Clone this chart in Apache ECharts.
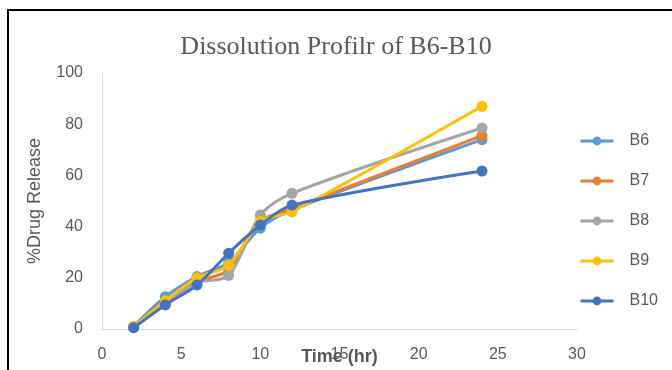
<!DOCTYPE html>
<html><head><meta charset="utf-8">
<script src="https://cdn.jsdelivr.net/npm/echarts@6/dist/echarts.min.js"></script>
<style>
html,body{margin:0;padding:0;background:#fff;overflow:hidden}
#c{width:672px;height:370px;position:absolute;left:0;top:0}
#frame{position:absolute;left:7px;top:9px;width:700px;height:400px;border:2px solid #000;pointer-events:none}
</style></head>
<body>
<div id="c"></div>
<div id="frame"></div>
<script>
const times = [2, 4, 6, 8, 10, 12, 24];
const seriesNames = ['B6', 'B7', 'B8', 'B9', 'B10'];
const B6 = [1.0, 12.6, 20.5, 26.0, 39.4, 46.5, 74.0];
const B7 = [0.5, 10.5, 18.5, 23.0, 42.0, 47.0, 75.5];
const B8 = [0.8, 10.0, 18.0, 21.0, 44.5, 53.0, 78.5];
const B9 = [1.0, 11.0, 20.0, 25.0, 42.0, 45.8, 87.0];
const B10 = [0.5, 9.4, 17.2, 29.6, 40.6, 48.4, 61.7];
const xTicks = [0, 5, 10, 15, 20, 25, 30];
const yTicks = [0, 20, 40, 60, 80, 100];
const colors = ['#5B9BD5', '#ED7D31', '#A5A5A5', '#FFC000', '#4472C4'];
const values = [B6, B7, B8, B9, B10];

const chart = echarts.init(document.getElementById('c'), null, {renderer: 'canvas'});
const txt = '#595959';
const sans = 'Liberation Sans';
chart.setOption({
  animation: false,
  backgroundColor: '#fff',
  title: {
    text: 'Dissolution Profilr of B6-B10',
    left: 'center', top: 29,
    textStyle: {fontFamily: 'Liberation Serif', fontSize: 26, fontWeight: 'normal', color: txt}
  },
  legend: {
    orient: 'vertical', left: 574, top: 128,
    itemWidth: 33, itemHeight: 11, itemGap: 24,
    lineStyle: {width: 3},
    textStyle: {fontFamily: sans, fontSize: 16, color: txt, padding: [0, 0, 0, 11]},
    data: seriesNames
  },
  grid: {left: 102, right: 95, top: 73, bottom: 41, containLabel: false, outerBoundsMode: 'none'},
  xAxis: {
    type: 'value', min: xTicks[0], max: xTicks[xTicks.length - 1], interval: 5,
    name: 'Time (hr)', nameLocation: 'middle', nameGap: 19, nameMoveOverlap: false,
    nameTextStyle: {fontFamily: sans, fontSize: 18, fontWeight: 'bold', color: txt},
    axisLine: {lineStyle: {color: '#d9d9d9', width: 1}},
    axisTick: {show: false},
    splitLine: {show: false},
    axisLabel: {fontFamily: sans, fontSize: 16, color: txt, margin: 18}
  },
  yAxis: {
    type: 'value', min: yTicks[0], max: yTicks[yTicks.length - 1], interval: 20,
    name: '%Drug Release', nameLocation: 'middle', nameGap: 58, nameRotate: 90, nameMoveOverlap: false,
    nameTextStyle: {fontFamily: sans, fontSize: 18, color: txt},
    axisLine: {show: true, lineStyle: {color: '#d9d9d9', width: 1}},
    axisTick: {show: false},
    splitLine: {show: false},
    axisLabel: {fontFamily: sans, fontSize: 16, color: txt, margin: 19}
  },
  series: seriesNames.map((n, i) => ({
    name: n, type: 'line', smooth: 0.3,
    data: times.map((t, j) => [t, values[i][j]]),
    symbol: 'circle', symbolSize: 11,
    lineStyle: {color: colors[i], width: 3},
    itemStyle: {color: colors[i]},
    z: 2 + i
  }))
});
</script>
</body></html>
